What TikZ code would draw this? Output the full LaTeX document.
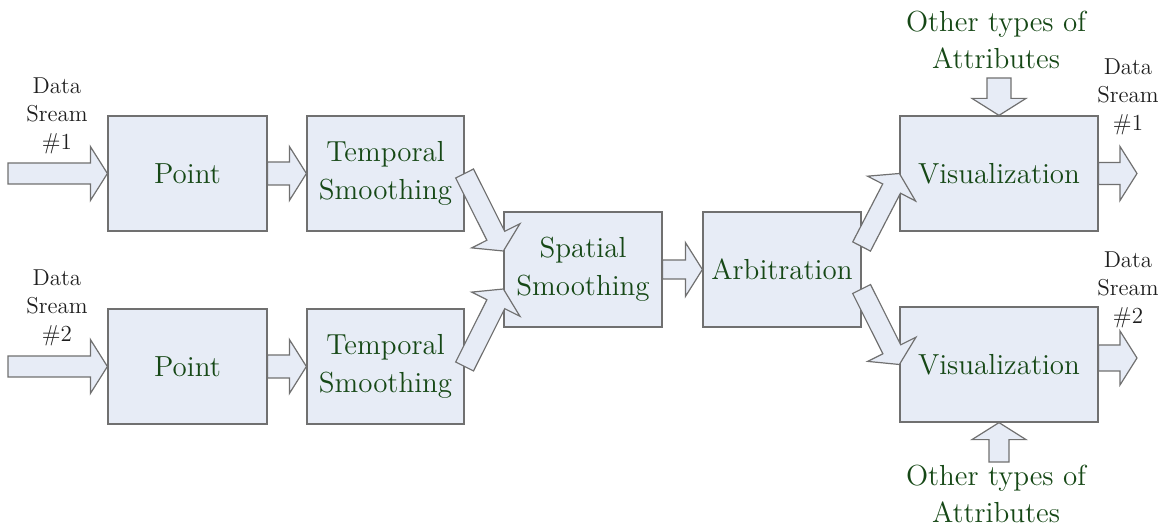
\documentclass[tikz,border=0pt]{standalone}
\usetikzlibrary{calc}
\definecolor{boxfill}{RGB}{231,236,246}
\definecolor{boxline}{RGB}{112,112,112}
\definecolor{labgreen}{RGB}{22,72,22}
\definecolor{dstext}{RGB}{30,30,30}
\tikzset{
  blk/.style={draw=boxline, fill=boxfill, line width=0.6pt, inner sep=0pt,
    minimum width=#1, minimum height=57.5pt, text=labgreen,
    font=\fontsize{14.5}{19}\selectfont, align=center},
  dslabel/.style={text=dstext, font=\fontsize{11.5}{14}\selectfont, align=center, inner sep=0pt},
  otlabel/.style={text=labgreen, font=\fontsize{14.5}{18.5}\selectfont, align=center, inner sep=0pt},
  arrsty/.style={draw=boxline, fill=boxfill, line width=0.6pt, line join=miter}
}
\newcommand\barrow[3]{%
  \path (#1) coordinate (baS) (#2) coordinate (baE) ($(baE)!8.5pt!(baS)$) coordinate (baH);
  \draw[arrsty] ($(baS)!#3!90:(baE)$) -- ($(baH)!#3!-90:(baS)$) -- ($(baH)!13.5pt!-90:(baS)$)
    -- (baE) -- ($(baH)!13.5pt!90:(baS)$) -- ($(baH)!#3!90:(baS)$) -- ($(baS)!#3!-90:(baE)$) -- cycle;}
\begin{document}
\begin{tikzpicture}[x=0.5pt,y=-0.5pt]
\useasboundingbox (0,0) rectangle (1168,529);
% boxes
\node[blk=79.5pt] (p1) at (187.5,173.5) {Point};
\node[blk=78.5pt] (t1) at (385.5,173.5) {Temporal\\Smoothing};
\node[blk=79.5pt] (p2) at (187.5,366.5) {Point};
\node[blk=78.5pt] (t2) at (385.5,366.5) {Temporal\\Smoothing};
\node[blk=79pt] (sp) at (583,269.5) {Spatial\\Smoothing};
\node[blk=79pt] (ar) at (782,269.5) {Arbitration};
\node[blk=99pt] (v1) at (999,173.5) {Visualization};
\node[blk=99pt] (v2) at (999,364.5) {Visualization};
% labels
\node[dslabel] (dsl1) at (57,116) {Data\\Sream\\\#1};
\node[dslabel] (dsl2) at (57,308) {Data\\Sream\\\#2};
\node[dslabel] (dsr1) at (1128,97) {Data\\Sream\\\#1};
\node[dslabel] (dsr2) at (1128,290) {Data\\Sream\\\#2};
\node[otlabel] (ot1) at (996,40) {Other types of\\Attributes};
\node[otlabel] (ot2) at (996,494) {Other types of\\Attributes};
% free ends and offset anchors
\coordinate (in1) at (8,173.5);
\coordinate (in2) at (8,366.5);
\coordinate (out1) at (1137,173.5);
\coordinate (out2) at (1137,358);
\coordinate (top1) at (999,78);
\coordinate (bot2) at (999,462);
\coordinate (spa) at ([yshift=9.25pt]sp.west);
\coordinate (spb) at ([yshift=-9.75pt]sp.west);
\coordinate (ara) at ([yshift=11.5pt]ar.east);
\coordinate (arb) at ([yshift=-9.75pt]ar.east);
\coordinate (v2o) at ([yshift=3.25pt]v2.east);
% arrows
\barrow{in1}{p1.west}{5.25pt}
\barrow{in2}{p2.west}{5.25pt}
\barrow{p1.east}{t1.west}{5.75pt}
\barrow{p2.east}{t2.west}{5.75pt}
\barrow{t1.east}{spa}{5pt}
\barrow{t2.east}{spb}{5pt}
\barrow{sp.east}{ar.west}{4.75pt}
\barrow{ara}{v1.west}{5pt}
\barrow{arb}{v2.west}{5pt}
\barrow{v1.east}{out1}{5.5pt}
\barrow{v2o}{out2}{6.5pt}
\barrow{top1}{v1.north}{6pt}
\barrow{bot2}{v2.south}{5pt}
\end{tikzpicture}
\end{document}
